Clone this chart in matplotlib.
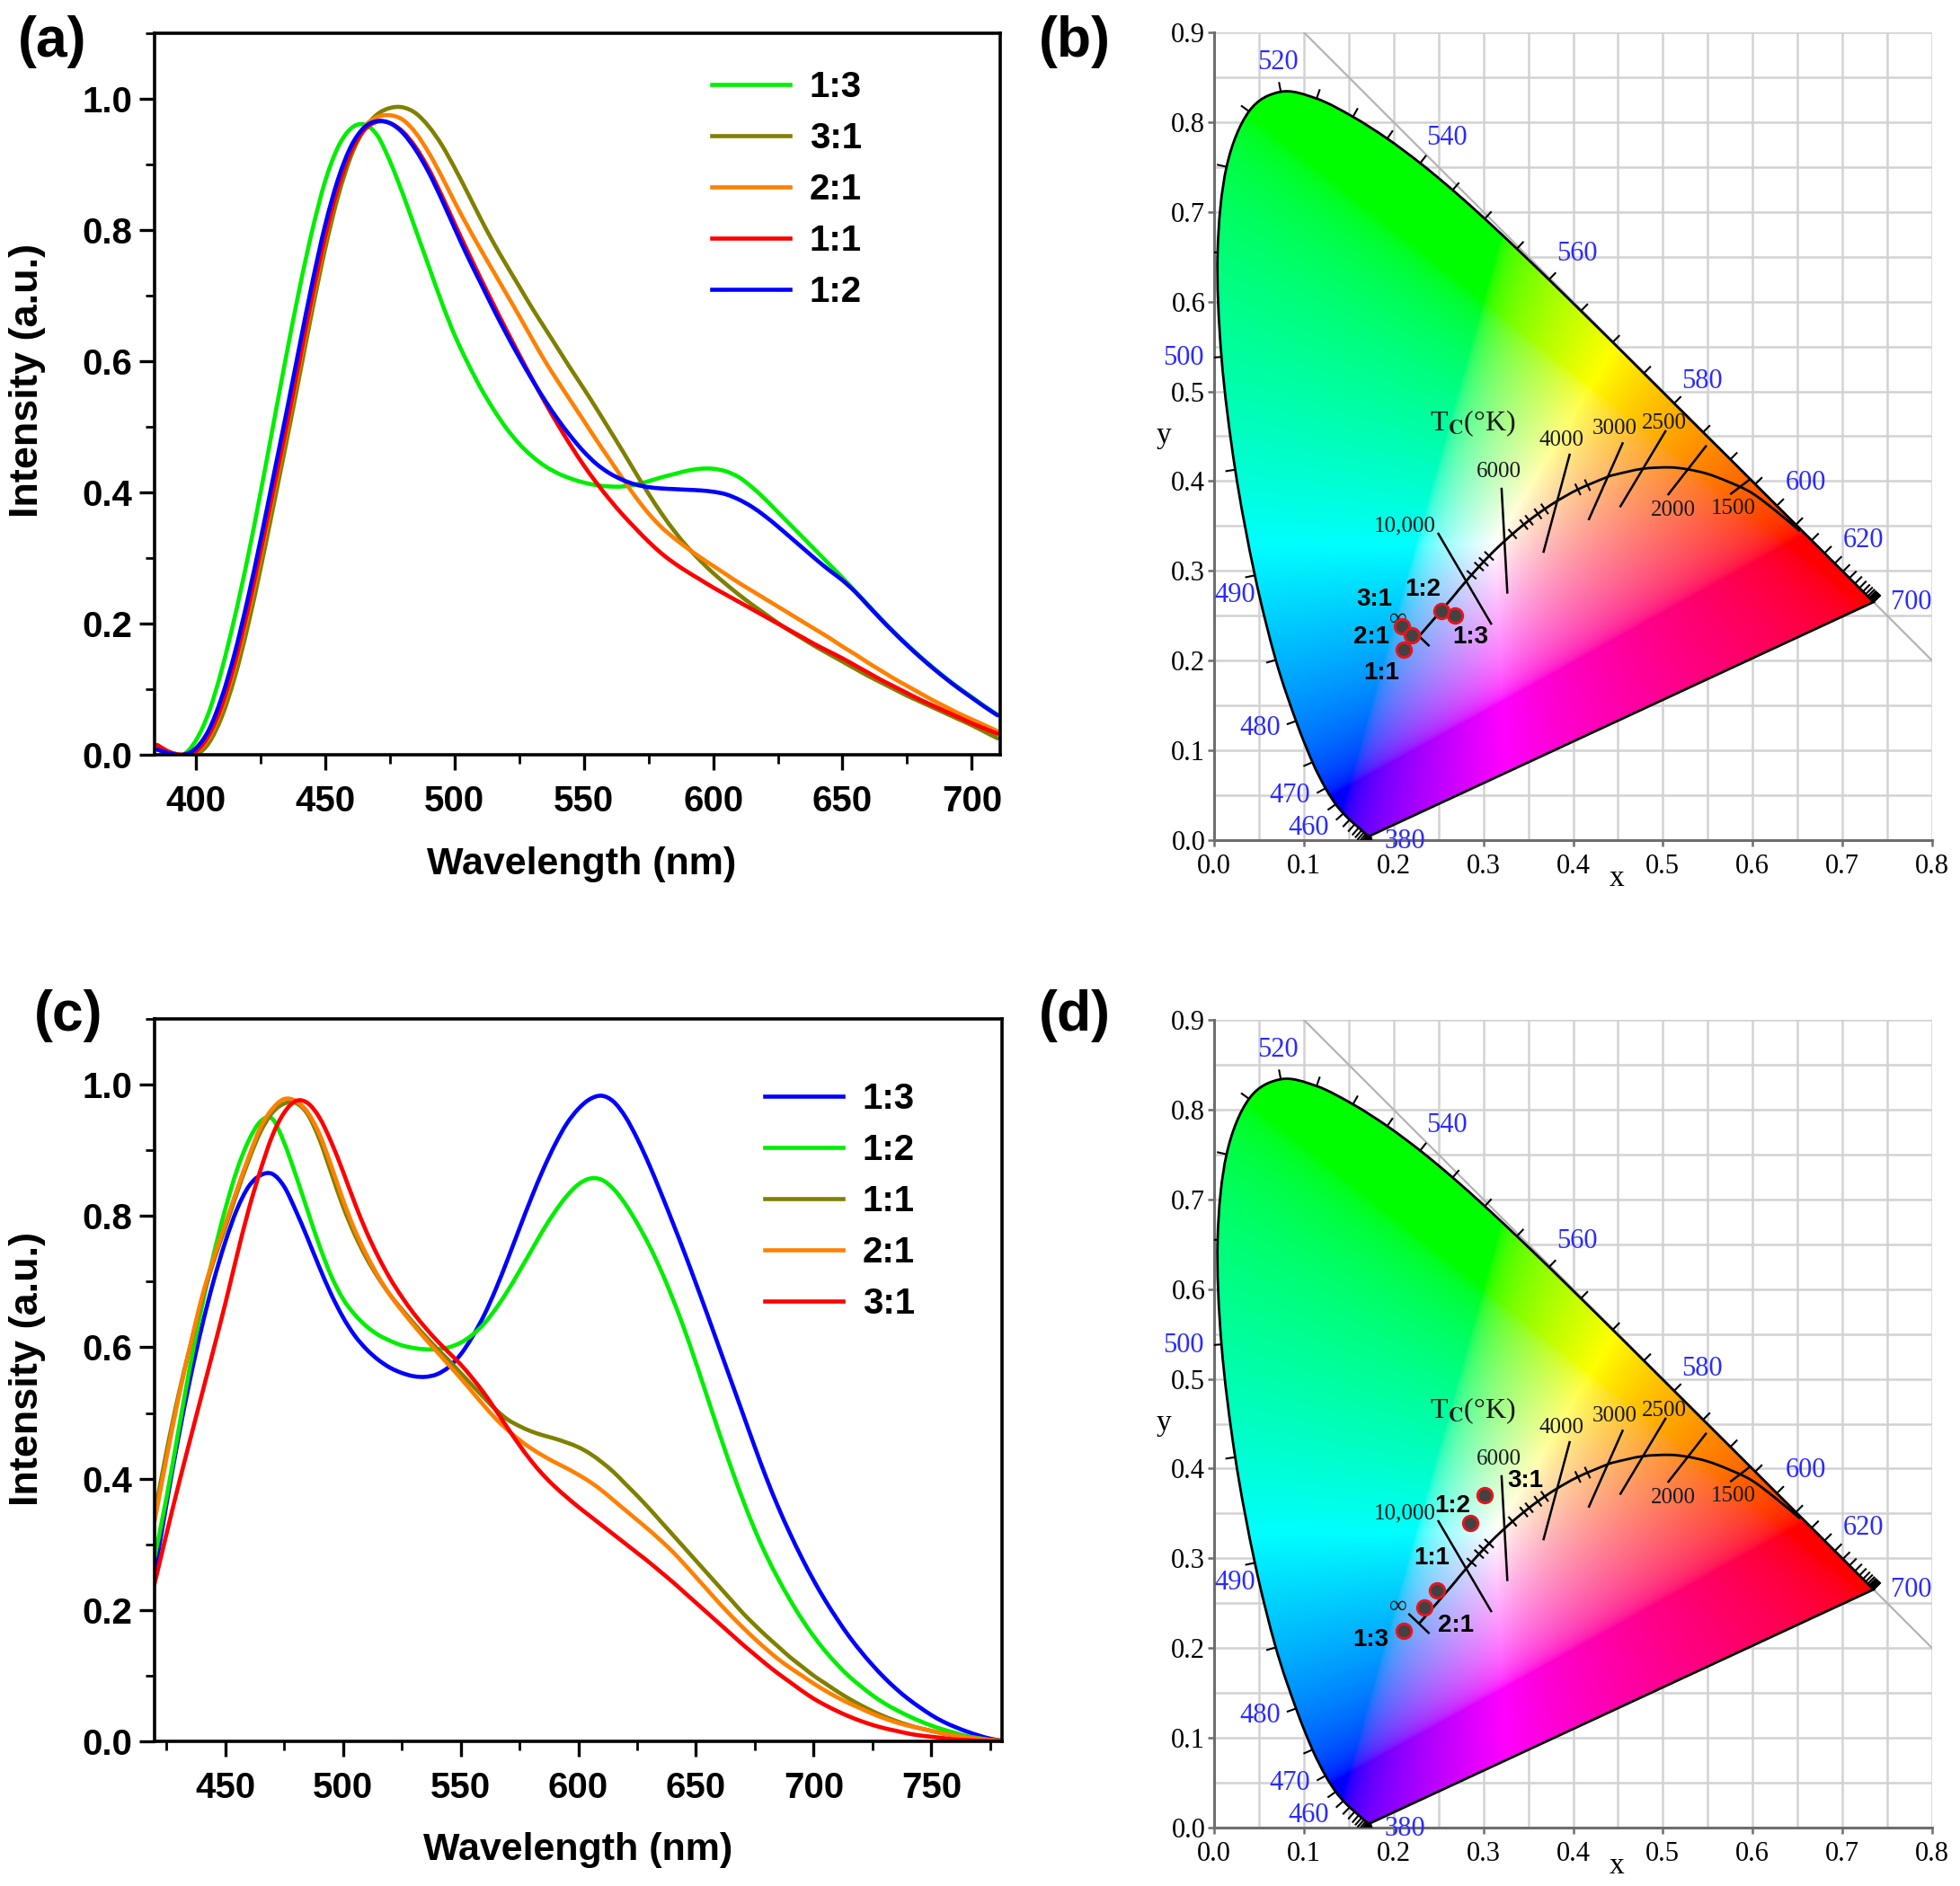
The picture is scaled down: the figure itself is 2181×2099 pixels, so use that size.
import numpy as np
import matplotlib
matplotlib.use("Agg")
import matplotlib.pyplot as plt
from matplotlib.path import Path
from matplotlib.patches import PathPatch
from matplotlib.lines import Line2D
from matplotlib.ticker import MultipleLocator

plt.rcParams["font.family"] = ["Liberation Sans", "DejaVu Sans"]
plt.rcParams["font.weight"] = "bold"
plt.rcParams["mathtext.fontset"] = "stix"

#==================== DATA: PANEL (a) ====================#
wl_a = [385, 390, 395, 400, 405, 410, 415, 420, 425, 430, 435, 440, 445, 450, 455, 460,
        465, 470, 475, 480, 485, 490, 495, 500, 505, 510, 515, 520, 525, 530, 535, 540,
        545, 550, 555, 560, 565, 570, 575, 580, 585, 590, 595, 600, 605, 610, 615, 620,
        625, 630, 635, 640, 645, 650, 655, 660, 665, 670, 675, 680, 685, 690, 695, 700,
        705, 710]
a_13 = [0.010, 0.002, 0.000, 0.022, 0.065, 0.130, 0.210, 0.300, 0.400, 0.505, 0.610, 0.710,
        0.800, 0.875, 0.927, 0.955, 0.961, 0.945, 0.905, 0.855, 0.800, 0.745, 0.690, 0.640,
        0.598, 0.560, 0.527, 0.498, 0.474, 0.455, 0.440, 0.429, 0.421, 0.415, 0.411, 0.409,
        0.409, 0.412, 0.417, 0.423, 0.428, 0.433, 0.436, 0.436, 0.432, 0.423, 0.408, 0.390,
        0.370, 0.350, 0.330, 0.310, 0.290, 0.270, 0.249, 0.228, 0.207, 0.187, 0.168, 0.150,
        0.133, 0.117, 0.102, 0.088, 0.074, 0.061]
a_31 = [0.008, 0.002, 0.000, 0.000, 0.018, 0.058, 0.118, 0.195, 0.284, 0.380, 0.477, 0.577,
        0.678, 0.772, 0.852, 0.913, 0.953, 0.976, 0.986, 0.987, 0.978, 0.958, 0.930, 0.895,
        0.857, 0.818, 0.781, 0.747, 0.714, 0.681, 0.650, 0.619, 0.588, 0.558, 0.527, 0.495,
        0.463, 0.430, 0.398, 0.368, 0.341, 0.317, 0.296, 0.277, 0.260, 0.244, 0.229, 0.215,
        0.201, 0.188, 0.176, 0.164, 0.153, 0.142, 0.131, 0.120, 0.110, 0.100, 0.090, 0.081,
        0.072, 0.063, 0.054, 0.045, 0.035, 0.025]
a_21 = [0.010, 0.003, 0.000, 0.004, 0.026, 0.070, 0.133, 0.212, 0.302, 0.398, 0.494, 0.593,
        0.693, 0.786, 0.865, 0.923, 0.957, 0.972, 0.975, 0.968, 0.948, 0.918, 0.882, 0.843,
        0.806, 0.771, 0.737, 0.703, 0.669, 0.634, 0.600, 0.569, 0.539, 0.509, 0.479, 0.450,
        0.421, 0.393, 0.368, 0.347, 0.330, 0.315, 0.301, 0.288, 0.275, 0.262, 0.250, 0.238,
        0.226, 0.214, 0.202, 0.190, 0.178, 0.165, 0.153, 0.140, 0.128, 0.116, 0.105, 0.094,
        0.083, 0.073, 0.063, 0.054, 0.045, 0.036]
a_11 = [0.015, 0.004, 0.000, 0.005, 0.030, 0.075, 0.140, 0.220, 0.310, 0.405, 0.500, 0.600,
        0.700, 0.790, 0.865, 0.920, 0.952, 0.965, 0.963, 0.950, 0.926, 0.893, 0.853, 0.810,
        0.768, 0.727, 0.687, 0.648, 0.610, 0.573, 0.537, 0.503, 0.471, 0.441, 0.414, 0.389,
        0.366, 0.345, 0.325, 0.307, 0.292, 0.279, 0.267, 0.255, 0.244, 0.233, 0.222, 0.211,
        0.200, 0.189, 0.178, 0.167, 0.157, 0.147, 0.136, 0.125, 0.114, 0.104, 0.094, 0.084,
        0.075, 0.066, 0.057, 0.048, 0.040, 0.032]
a_12 = [0.008, 0.002, 0.000, 0.010, 0.038, 0.088, 0.155, 0.237, 0.328, 0.425, 0.522, 0.622,
        0.720, 0.808, 0.878, 0.928, 0.956, 0.966, 0.963, 0.948, 0.922, 0.888, 0.847, 0.803,
        0.760, 0.720, 0.680, 0.642, 0.606, 0.572, 0.540, 0.511, 0.485, 0.462, 0.443, 0.429,
        0.419, 0.412, 0.408, 0.406, 0.405, 0.404, 0.403, 0.401, 0.397, 0.389, 0.378, 0.364,
        0.348, 0.331, 0.314, 0.297, 0.281, 0.266, 0.248, 0.227, 0.206, 0.186, 0.167, 0.149,
        0.132, 0.116, 0.101, 0.087, 0.073, 0.060]
series_a = [("1:3", a_13, "#00ee00"), ("3:1", a_31, "#808000"), ("2:1", a_21, "#ff8000"),
            ("1:1", a_11, "#ff0000"), ("1:2", a_12, "#0000ff")]

#==================== DATA: PANEL (c) ====================#
wl_c = [420, 425, 430, 435, 440, 445, 450, 455, 460, 465, 470, 475, 480, 485, 490, 495,
        500, 505, 510, 515, 520, 525, 530, 535, 540, 545, 550, 555, 560, 565, 570, 575,
        580, 585, 590, 595, 600, 605, 610, 615, 620, 625, 630, 635, 640, 645, 650, 655,
        660, 665, 670, 675, 680, 685, 690, 695, 700, 705, 710, 715, 720, 725, 730, 735,
        740, 745, 750, 755, 760, 765, 770, 775, 780]
c_13 = [0.255, 0.360, 0.460, 0.550, 0.630, 0.700, 0.760, 0.810, 0.845, 0.862, 0.864, 0.845,
        0.808, 0.766, 0.722, 0.681, 0.646, 0.618, 0.597, 0.581, 0.569, 0.561, 0.556, 0.555,
        0.559, 0.570, 0.589, 0.616, 0.649, 0.689, 0.734, 0.781, 0.827, 0.870, 0.908, 0.940,
        0.963, 0.978, 0.983, 0.974, 0.951, 0.918, 0.879, 0.836, 0.791, 0.745, 0.697, 0.648,
        0.598, 0.548, 0.498, 0.448, 0.400, 0.356, 0.316, 0.279, 0.245, 0.214, 0.186, 0.160,
        0.137, 0.116, 0.097, 0.080, 0.065, 0.052, 0.040, 0.030, 0.022, 0.015, 0.009, 0.004,
        0.001]
c_12 = [0.280, 0.370, 0.470, 0.570, 0.660, 0.740, 0.810, 0.870, 0.915, 0.944, 0.948, 0.912,
        0.862, 0.808, 0.755, 0.709, 0.674, 0.650, 0.632, 0.619, 0.610, 0.603, 0.599, 0.597,
        0.597, 0.600, 0.607, 0.619, 0.636, 0.659, 0.686, 0.716, 0.747, 0.778, 0.806, 0.830,
        0.848, 0.857, 0.855, 0.841, 0.818, 0.789, 0.756, 0.718, 0.675, 0.628, 0.576, 0.522,
        0.468, 0.416, 0.367, 0.322, 0.282, 0.247, 0.215, 0.186, 0.160, 0.137, 0.117, 0.099,
        0.084, 0.070, 0.058, 0.048, 0.039, 0.031, 0.024, 0.018, 0.013, 0.008, 0.005, 0.002,
        0.000]
c_11 = [0.345, 0.440, 0.525, 0.600, 0.670, 0.730, 0.782, 0.835, 0.885, 0.928, 0.957, 0.971,
        0.972, 0.955, 0.917, 0.866, 0.815, 0.772, 0.736, 0.706, 0.680, 0.658, 0.637, 0.617,
        0.598, 0.580, 0.561, 0.542, 0.523, 0.505, 0.490, 0.480, 0.472, 0.466, 0.461, 0.455,
        0.448, 0.438, 0.425, 0.410, 0.392, 0.374, 0.355, 0.335, 0.315, 0.295, 0.275, 0.255,
        0.235, 0.215, 0.195, 0.177, 0.160, 0.144, 0.128, 0.114, 0.100, 0.088, 0.076, 0.065,
        0.055, 0.046, 0.038, 0.031, 0.025, 0.020, 0.016, 0.012, 0.009, 0.006, 0.004, 0.002,
        0.001]
c_21 = [0.335, 0.430, 0.520, 0.600, 0.675, 0.735, 0.787, 0.840, 0.890, 0.935, 0.963, 0.978,
        0.975, 0.958, 0.925, 0.877, 0.825, 0.779, 0.741, 0.708, 0.680, 0.656, 0.634, 0.613,
        0.593, 0.573, 0.553, 0.532, 0.511, 0.491, 0.474, 0.459, 0.446, 0.435, 0.425, 0.416,
        0.406, 0.395, 0.382, 0.367, 0.352, 0.337, 0.322, 0.306, 0.289, 0.270, 0.250, 0.230,
        0.210, 0.191, 0.173, 0.156, 0.140, 0.125, 0.112, 0.100, 0.088, 0.077, 0.067, 0.058,
        0.050, 0.042, 0.035, 0.029, 0.024, 0.020, 0.016, 0.012, 0.009, 0.006, 0.004, 0.002,
        0.001]
c_31 = [0.240, 0.315, 0.388, 0.458, 0.527, 0.596, 0.666, 0.740, 0.810, 0.870, 0.922, 0.957,
        0.975, 0.972, 0.950, 0.913, 0.868, 0.820, 0.776, 0.738, 0.705, 0.677, 0.652, 0.630,
        0.610, 0.592, 0.574, 0.553, 0.530, 0.504, 0.477, 0.451, 0.427, 0.406, 0.388, 0.372,
        0.357, 0.343, 0.329, 0.315, 0.301, 0.287, 0.273, 0.258, 0.243, 0.227, 0.211, 0.195,
        0.179, 0.163, 0.147, 0.132, 0.117, 0.103, 0.090, 0.077, 0.065, 0.055, 0.046, 0.038,
        0.031, 0.025, 0.020, 0.016, 0.012, 0.009, 0.007, 0.005, 0.003, 0.002, 0.001, 0.0005,
        0.000]
series_c = [("1:3", c_13, "#0000ff"), ("1:2", c_12, "#00ee00"), ("1:1", c_11, "#808000"),
            ("2:1", c_21, "#ff8000"), ("3:1", c_31, "#ff0000")]

#==================== DATA: CIE 1931 DIAGRAM ====================#
cie_x = [0.1741, 0.1740, 0.1738, 0.1736, 0.1733, 0.1730, 0.1726, 0.1721, 0.1714, 0.1703,
         0.1689, 0.1669, 0.1644, 0.1611, 0.1566, 0.1510, 0.1440, 0.1355, 0.1241, 0.1096,
         0.0913, 0.0687, 0.0454, 0.0235, 0.0082, 0.0039, 0.0139, 0.0389, 0.0743, 0.1142,
         0.1547, 0.1929, 0.2296, 0.2658, 0.3016, 0.3373, 0.3731, 0.4087, 0.4441, 0.4788,
         0.5125, 0.5448, 0.5752, 0.6029, 0.6270, 0.6482, 0.6658, 0.6801, 0.6915, 0.7006,
         0.7079, 0.7140, 0.7190, 0.7230, 0.7260, 0.7283, 0.7300, 0.7311, 0.7320, 0.7327,
         0.7334, 0.7340, 0.7344, 0.7346, 0.7347]
cie_y = [0.0050, 0.0050, 0.0049, 0.0049, 0.0048, 0.0048, 0.0048, 0.0048, 0.0051, 0.0058,
         0.0069, 0.0086, 0.0109, 0.0138, 0.0177, 0.0227, 0.0297, 0.0399, 0.0578, 0.0868,
         0.1327, 0.2007, 0.2950, 0.4127, 0.5384, 0.6548, 0.7502, 0.8120, 0.8338, 0.8262,
         0.8059, 0.7816, 0.7543, 0.7243, 0.6923, 0.6589, 0.6245, 0.5896, 0.5547, 0.5202,
         0.4866, 0.4544, 0.4242, 0.3965, 0.3725, 0.3514, 0.3340, 0.3197, 0.3083, 0.2993,
         0.2920, 0.2859, 0.2809, 0.2770, 0.2740, 0.2717, 0.2700, 0.2689, 0.2680, 0.2673,
         0.2666, 0.2660, 0.2656, 0.2654, 0.2653]

wl_labels = ["380", "460", "470", "480", "490", "500", "520", "540", "560", "580", "600", "620", "700"]
wl_label_x = [0.213, 0.105, 0.084, 0.051, 0.023, -0.034, 0.071, 0.259, 0.404, 0.544, 0.659, 0.723, 0.777]
wl_label_y = [-0.002, 0.014, 0.050, 0.125, 0.273, 0.537, 0.866, 0.782, 0.653, 0.511, 0.398, 0.334, 0.265]

planck_x = [0.6528, 0.6251, 0.5985, 0.5729, 0.5493, 0.5267, 0.5064, 0.4770, 0.4476, 0.4369,
            0.4053, 0.3805, 0.3608, 0.3451, 0.3325, 0.3221, 0.3135, 0.3064, 0.2952, 0.2869,
            0.2807, 0.2719, 0.2637, 0.2290]
planck_y = [0.3444, 0.3674, 0.3872, 0.3993, 0.4082, 0.4133, 0.4153, 0.4137, 0.4074, 0.4041,
            0.3907, 0.3768, 0.3636, 0.3516, 0.3411, 0.3318, 0.3237, 0.3166, 0.3048, 0.2956,
            0.2884, 0.2781, 0.2681, 0.2280]

hash_x = [0.2869, 0.2952, 0.3003, 0.3064, 0.3325, 0.3451, 0.3510, 0.3608, 0.3683, 0.4053, 0.4160]
hash_y = [0.2956, 0.3048, 0.3101, 0.3166, 0.3411, 0.3516, 0.3564, 0.3636, 0.3690, 0.3907, 0.3955]

iso_x0 = [0.2175, 0.2499, 0.3203, 0.3961, 0.4551, 0.5028, 0.5479, 0.5970]
iso_y0 = [0.2375, 0.3413, 0.3914, 0.4294, 0.4421, 0.4555, 0.4388, 0.4020]
iso_x1 = [0.2390, 0.3086, 0.3267, 0.3671, 0.4177, 0.4528, 0.5062, 0.5760]
iso_y1 = [0.2170, 0.2412, 0.2759, 0.3213, 0.3577, 0.3720, 0.3854, 0.3860]

temp_labels = ["10,000", "6000", "4000", "3000", "2500", "2000", "1500"]
temp_x = [0.213, 0.317, 0.387, 0.446, 0.502, 0.512, 0.579]
temp_y = [0.350, 0.410, 0.445, 0.459, 0.465, 0.367, 0.369]
inf_xy = (0.205, 0.246)

b_ratio = ["3:1", "2:1", "1:1", "1:2", "1:3"]
b_x = [0.209, 0.220, 0.211, 0.253, 0.268]
b_y = [0.238, 0.2285, 0.2125, 0.255, 0.250]
b_lab_x = [0.1785, 0.175, 0.1865, 0.233, 0.286]
b_lab_y = [0.268, 0.226, 0.186, 0.279, 0.226]

d_ratio = ["3:1", "1:2", "1:1", "2:1", "1:3"]
d_x = [0.301, 0.285, 0.248, 0.2345, 0.211]
d_y = [0.370, 0.339, 0.264, 0.245, 0.219]
d_lab_x = [0.347, 0.266, 0.2425, 0.269, 0.174]
d_lab_y = [0.386, 0.358, 0.300, 0.225, 0.209]

SERIF = ["Liberation Serif", "DejaVu Serif"]


#==================== HELPERS ====================#
def smooth_path(xs, ys, close=False):
    # cubic bezier through the given points (Catmull-Rom control points)
    pts = np.column_stack([xs, ys]).astype(float)
    ext = np.vstack([pts[0], pts, pts[-1]])
    verts = [pts[0]]
    codes = [Path.MOVETO]
    for i in range(1, len(ext) - 2):
        p0, p1, p2, p3 = ext[i - 1], ext[i], ext[i + 1], ext[i + 2]
        verts += [p1 + (p2 - p0) / 6, p2 - (p3 - p1) / 6, p2]
        codes += [Path.CURVE4] * 3
    if close:
        verts += [pts[0], pts[0]]
        codes += [Path.LINETO, Path.CLOSEPOLY]
    return Path(verts, codes)


def chromaticity_rgb():
    gx = np.linspace(0.0, 0.8, 801)
    gy = np.linspace(0.001, 0.9, 900)
    X, Y = np.meshgrid(gx, gy)
    xyz = np.stack([X / Y, np.ones_like(X), (1 - X - Y) / Y])
    M = np.array([[3.2406, -1.5372, -0.4986],
                  [-0.9689, 1.8758, 0.0415],
                  [0.0557, -0.2040, 1.0570]])
    rgb = np.einsum("ij,jkl->kli", M, xyz)
    rgb = np.clip(rgb, 0, None)
    rgb = rgb / np.clip(rgb.max(axis=2, keepdims=True), 1e-9, None)
    rgb = np.where(rgb <= 0.0031308, 12.92 * rgb, 1.055 * rgb ** (1 / 2.4) - 0.055)
    return np.clip(rgb, 0, 1)


def plot_spectra(ax, wl, series):
    handles = []
    for name, vals, col in series:
        ax.add_patch(PathPatch(smooth_path(wl, vals), facecolor="none", edgecolor=col,
                               lw=3.3, capstyle="round", joinstyle="round"))
        handles.append(Line2D([], [], color=col, lw=3.3, label=name))
    return handles


def style_spectrum(ax, xlim, xmajor):
    ax.set_xlim(*xlim)
    ax.set_ylim(0, 1.1)
    ax.xaxis.set_major_locator(MultipleLocator(xmajor))
    ax.xaxis.set_minor_locator(MultipleLocator(xmajor / 2))
    ax.yaxis.set_major_locator(MultipleLocator(0.2))
    ax.yaxis.set_minor_locator(MultipleLocator(0.1))
    ax.yaxis.set_major_formatter(plt.FuncFormatter(lambda v, p: f"{v:.1f}"))
    ax.tick_params(which="major", direction="out", length=12, width=2.4, labelsize=29)
    ax.tick_params(which="minor", direction="out", length=7, width=2.0)
    ax.tick_params(axis="x", which="major", pad=12)
    ax.tick_params(axis="y", which="major", pad=6)
    for s in ax.spines.values():
        s.set_linewidth(2.6)


def draw_cie(ax, rgb, px, py, ratios, lx, ly):
    ax.set_xlim(0, 0.8)
    ax.set_ylim(0, 0.9)
    ax.xaxis.set_major_locator(MultipleLocator(0.1))
    ax.yaxis.set_major_locator(MultipleLocator(0.1))
    ax.xaxis.set_minor_locator(MultipleLocator(0.05))
    ax.yaxis.set_minor_locator(MultipleLocator(0.05))
    ax.xaxis.set_major_formatter(plt.FuncFormatter(lambda v, p: f"{v:.1f}"))
    ax.yaxis.set_major_formatter(plt.FuncFormatter(lambda v, p: f"{v:.1f}"))
    ax.grid(which="both", color="#d2d2d2", lw=1.8, zorder=0)
    ax.set_axisbelow(True)
    ax.tick_params(which="major", direction="out", length=5, width=1.8, color="#6e6e6e",
                   labelsize=22)
    ax.tick_params(axis="x", which="major", pad=6)
    ax.tick_params(axis="y", which="major", pad=2)
    ax.tick_params(which="minor", length=0)
    for lab in ax.get_xticklabels() + ax.get_yticklabels():
        lab.set_fontfamily(SERIF)
        lab.set_fontweight("normal")
    for side in ("top", "right"):
        ax.spines[side].set_visible(False)
    for side in ("left", "bottom"):
        ax.spines[side].set_color("#6e6e6e")
        ax.spines[side].set_linewidth(2.2)

    # x + y = 1 line
    ax.plot([0.1, 0.8], [0.9, 0.2], color="#b4b4b4", lw=1.6, zorder=1)

    locus = smooth_path(cie_x, cie_y, close=True)
    im = ax.imshow(rgb, extent=(0, 0.8, 0.001, 0.9), origin="lower", interpolation="bilinear",
                   aspect="auto", zorder=2)
    im.set_clip_path(PathPatch(locus, transform=ax.transData))
    ax.add_patch(PathPatch(locus, facecolor="none", edgecolor="black", lw=2.0, zorder=3))

    # wavelength ticks along the spectral locus
    lxs = np.array(cie_x)
    lys = np.array(cie_y)
    tx = np.gradient(lxs)
    ty = np.gradient(lys)
    nx, ny = ty, -tx
    nrm = np.hypot(nx, ny)
    nx, ny = nx / nrm, ny / nrm
    sgn = np.sign((lxs - 0.33) * nx + (lys - 0.33) * ny)
    nx, ny = nx * sgn, ny * sgn
    for i in range(len(lxs)):
        ax.plot([lxs[i], lxs[i] + 0.011 * nx[i]], [lys[i], lys[i] + 0.011 * ny[i]],
                color="black", lw=1.5, zorder=3, solid_capstyle="butt")
    for t, x, y in zip(wl_labels, wl_label_x, wl_label_y):
        ax.text(x, y, t, color="#2a2aff", fontsize=22, family=SERIF, weight="normal",
                ha="center", va="center", clip_on=False, zorder=7)

    # Planckian locus, isotherms and small marks
    ax.add_patch(PathPatch(smooth_path(planck_x, planck_y), facecolor="none",
                           edgecolor="black", lw=2.0, zorder=4))
    for x0, y0, x1, y1 in zip(iso_x0, iso_y0, iso_x1, iso_y1):
        ax.plot([x0, x1], [y0, y1], color="black", lw=1.8, zorder=4)
    pxs = np.array(planck_x)
    pys = np.array(planck_y)
    for hx, hy in zip(hash_x, hash_y):
        k = int(np.argmin(np.hypot(pxs - hx, pys - hy)))
        k = min(max(k, 1), len(pxs) - 2)
        dx, dy = pxs[k + 1] - pxs[k - 1], pys[k + 1] - pys[k - 1]
        d = np.hypot(dx, dy)
        ux, uy = dy / d, -dx / d
        ax.plot([hx - 0.006 * ux, hx + 0.006 * ux], [hy - 0.006 * uy, hy + 0.006 * uy],
                color="black", lw=1.5, zorder=4)
    for t, x, y in zip(temp_labels, temp_x, temp_y):
        ax.text(x, y, t, fontsize=18, family=SERIF, weight="normal", color="#1a1a1a",
                ha="center", va="center", zorder=5)
    ax.text(inf_xy[0], inf_xy[1], "\u221e", fontsize=20, family=SERIF, weight="normal",
            color="#1a1a1a", ha="center", va="center", zorder=5)
    ax.text(0.288, 0.464, r"T$_{\mathrm{C}}$(°K)", fontsize=23, family=SERIF,
            weight="normal", color="#1a1a1a", ha="center", va="center", zorder=5)

    # sample points
    ax.scatter(px, py, s=140, c="#424242", edgecolors="#e8141c", linewidths=2.1, zorder=6)
    for t, x, y in zip(ratios, lx, ly):
        ax.text(x, y, t, fontsize=20, weight="bold", color="black", ha="center",
                va="center", zorder=7)

    ax.set_xlabel("x", fontsize=24, family=SERIF, weight="normal")
    ax.set_ylabel("y", fontsize=24, family=SERIF, weight="normal", rotation=0)
    ax.xaxis.set_label_coords(0.561, -0.048)
    ax.yaxis.set_label_coords(-0.070, 0.501)
    ax.xaxis.label.set_va("center")
    ax.yaxis.label.set_va("center")
    ax.yaxis.label.set_ha("center")


#==================== FIGURE ====================#
W, H = 2181, 2099
fig = plt.figure(figsize=(W / 100, H / 100), dpi=100)
ax_a = fig.add_axes([172 / W, 1 - 840 / H, (1113 - 172) / W, (840 - 37) / H])
ax_c = fig.add_axes([172 / W, 1 - 1938 / H, (1115 - 172) / W, (1938 - 1134) / H])
ax_b = fig.add_axes([1351 / W, 1 - 935 / H, 799 / W, 899 / H])
ax_d = fig.add_axes([1351 / W, 1 - 2034 / H, 799 / W, 899 / H])

legend_font = {"family": "Liberation Sans", "weight": "bold", "size": 29}

# (a)
handles_a = plot_spectra(ax_a, wl_a, series_a)
style_spectrum(ax_a, (384, 711), 50)
ax_a.set_xlabel("Wavelength (nm)", fontsize=31, weight="bold")
ax_a.set_ylabel("Intensity (a.u.)", fontsize=32.5, weight="bold")
ax_a.xaxis.set_label_coords(0.505, -0.152)
ax_a.yaxis.set_label_coords(-0.150, 0.519)
ax_a.xaxis.label.set_va("center")
ax_a.yaxis.label.set_va("center")
ax_a.legend(handles=handles_a, frameon=False, loc="upper left", bbox_to_anchor=(0.659, 0.949),
            prop=legend_font, handlelength=2.15, handletextpad=0.55, labelspacing=0.47,
            borderpad=0, borderaxespad=0)

# (c)
handles_c = plot_spectra(ax_c, wl_c, series_c)
style_spectrum(ax_c, (420, 780), 50)
ax_c.set_xlabel("Wavelength (nm)", fontsize=31, weight="bold")
ax_c.set_ylabel("Intensity (a.u.)", fontsize=32.5, weight="bold")
ax_c.xaxis.set_label_coords(0.50, -0.150)
ax_c.yaxis.set_label_coords(-0.150, 0.516)
ax_c.xaxis.label.set_va("center")
ax_c.yaxis.label.set_va("center")
ax_c.legend(handles=handles_c, frameon=False, loc="upper left", bbox_to_anchor=(0.72, 0.913),
            prop=legend_font, handlelength=2.15, handletextpad=0.55, labelspacing=0.47,
            borderpad=0, borderaxespad=0)

# (b) and (d)
rgb = chromaticity_rgb()
draw_cie(ax_b, rgb, b_x, b_y, b_ratio, b_lab_x, b_lab_y)
draw_cie(ax_d, rgb, d_x, d_y, d_ratio, d_lab_x, d_lab_y)

for t, x, y in [("(a)", 58, 46), ("(b)", 1196, 46), ("(c)", 76, 1130), ("(d)", 1196, 1130)]:
    fig.text(x / W, 1 - y / H, t, fontsize=45, weight="bold", ha="center", va="center")

fig.savefig("out.png", dpi=100)
